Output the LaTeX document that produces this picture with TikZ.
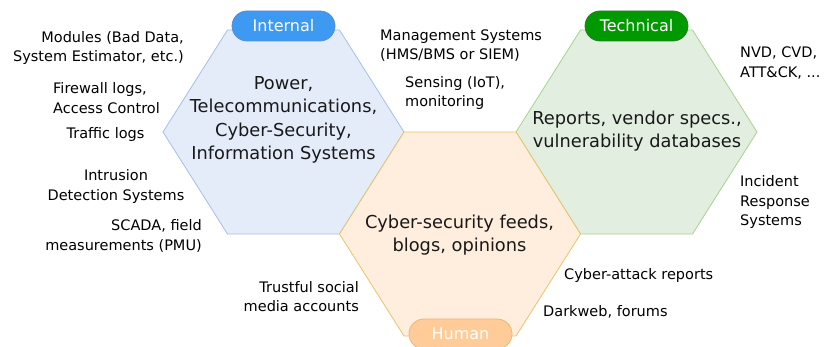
\documentclass[tikz,border=0pt]{standalone}
\usepackage{fontspec}
\setmainfont{DejaVu Sans}
\definecolor{blueF}{HTML}{E4ECFA}
\definecolor{blueS}{HTML}{A7BFE6}
\definecolor{greenF}{HTML}{E2EFE0}
\definecolor{greenS}{HTML}{A9D18E}
\definecolor{orangeF}{HTML}{FFEEDD}
\definecolor{orangeS}{HTML}{E8C46A}
\definecolor{tagBlue}{HTML}{3D99F2}
\definecolor{tagBlueS}{HTML}{5B8FD0}
\definecolor{tagGreen}{HTML}{009900}
\definecolor{tagGreenS}{HTML}{2D7A2D}
\definecolor{tagOrange}{HTML}{FFCC99}
\definecolor{tagOrangeS}{HTML}{E6B87A}
\begin{document}
\begin{tikzpicture}[x=1pt,y=-1pt,
  hexshape/.style={line width=0.8pt},
  tag/.style={rounded corners=15pt, minimum width=103pt, minimum height=30pt,
    inner sep=0pt, text=white, line width=0.8pt,
    font=\fontsize{16}{19}\selectfont},
  small/.style={inner sep=0pt, font=\fontsize{14.5}{19.5}\selectfont, text=black},
  big/.style={inner sep=0pt, align=center, font=\fontsize{17.8}{23.3}\selectfont, text=black!90}
]
\useasboundingbox (0,0) rectangle (826,347);
% hexagons
\draw[hexshape, draw=blueS, fill=blueF, shift={(283.5,132)}]
  (-120.5,0) -- (-56,-102) -- (56,-102) -- (120.5,0) -- (56,102) -- (-56,102) -- cycle;
\draw[hexshape, draw=greenS, fill=greenF, shift={(636.5,132)}]
  (-120.5,0) -- (-56,-102) -- (56,-102) -- (120.5,0) -- (56,102) -- (-56,102) -- cycle;
\draw[hexshape, draw=orangeS, fill=orangeF, shift={(460,234)}]
  (-120.5,0) -- (-56,-102) -- (56,-102) -- (120.5,0) -- (56,102) -- (-56,102) -- cycle;
% tags
\node[tag, draw=tagBlueS, fill=tagBlue] (internal) at (283.5,26) {Internal};
\node[tag, draw=tagGreenS, fill=tagGreen] (technical) at (636.5,26) {Technical};
\node[tag, draw=tagOrangeS, fill=tagOrange] (human) at (460.5,334) {Human};
% center texts
\node[big] (powertxt) at (283.5,120) {Power,\\Telecommunications,\\Cyber-Security,\\Information Systems};
\node[big] (reportstxt) at (637,131) {Reports, vendor specs.,\\vulnerability databases};
\node[big] (feedstxt) at (459.5,235) {Cyber-security feeds,\\blogs, opinions};
% left labels
\node[small, anchor=east, align=right] (modules) at (184,48) {Modules (Bad Data,\\System Estimator, etc.)};
\node[small, anchor=west, align=left] (firewall) at (53,98) {Firewall logs,\\Access Control};
\node[small] (traffic) at (105.5,135) {Traffic logs};
\node[small, align=center] (ids) at (116,186.5) {Intrusion\\Detection Systems};
\node[small, anchor=east, align=right] (scada) at (202,236) {SCADA, field\\measurements (PMU)};
\node[small, anchor=east, align=right] (trustful) at (359,296.5) {Trustful social\\media accounts};
% middle labels
\node[small, anchor=west, align=left] (mgmt) at (380,45.5) {Management Systems\\(HMS/BMS or SIEM)};
\node[small, anchor=west, align=left] (sensing) at (405,93) {Sensing (IoT),\\monitoring};
% right labels
\node[small, anchor=west, align=left] (nvd) at (740,63) {NVD, CVD,\\ATT\&CK, ...};
\node[small, anchor=west, align=left] (incident) at (740,202) {Incident\\Response\\Systems};
\node[small, anchor=west] (cyberattack) at (564,275) {Cyber-attack reports};
\node[small, anchor=west] (darkweb) at (543,312) {Darkweb, forums};
\end{tikzpicture}
\end{document}
